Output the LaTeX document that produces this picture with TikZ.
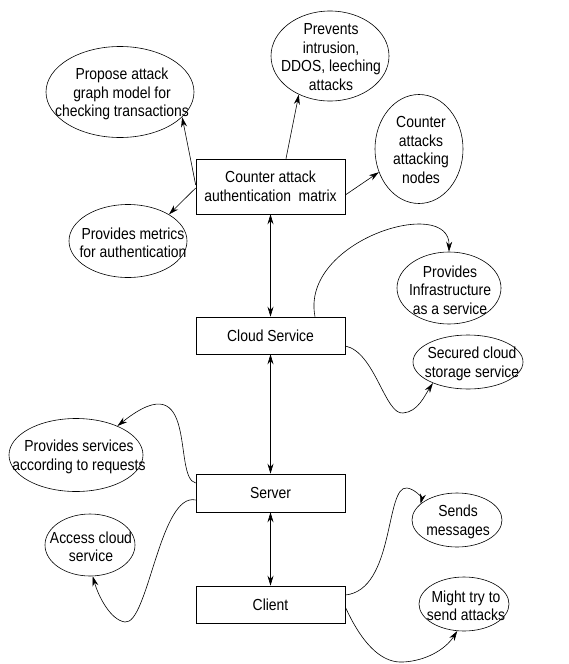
\documentclass[tikz,border=0pt]{standalone}
\usepackage{fontspec}
\setmainfont{Liberation Sans}[FakeStretch=0.87]
\usetikzlibrary{shapes.geometric,arrows.meta,calc}
\tikzset{
  box/.style={draw, line width=0.6pt, minimum width=149pt, inner sep=0pt, align=center},
  ell/.style={draw, ellipse, line width=0.6pt, inner sep=0pt},
  txt/.style={inner sep=0pt, align=center},
  arr/.style={line width=0.6pt, -{Stealth[length=10pt,width=6pt]}},
  darr/.style={line width=0.6pt, {Stealth[length=10pt,width=6pt]}-{Stealth[length=10pt,width=6pt]}}
}
\begin{document}
\begin{tikzpicture}[x=1pt,y=-1pt,font=\fontsize{16}{18.5}\selectfont]
\useasboundingbox (0,0) rectangle (568,664);
% boxes
\node[box, minimum height=55pt] (cam) at (270.5,186.5) {Counter attack\\authentication\ \ matrix};
\node[box, minimum height=37pt] (cloud) at (270.5,335.5) {Cloud Service};
\node[box, minimum height=38pt] (server) at (270.5,493) {Server};
\node[box, minimum height=37pt] (client) at (270.5,604.5) {Client};
% ellipses
\node[ell, minimum width=148pt, minimum height=91pt] (propose) at (120,92) {};
\node[txt] (proposet) at (122,94) {Propose attack\\graph model for\\checking transactions};
\node[ell, minimum width=118pt, minimum height=90pt] (prevents) at (330,56) {};
\node[txt] (preventst) at (331,57) {Prevents\\intrusion,\\DDOS, leeching\\attacks};
\node[ell, minimum width=88pt, minimum height=109pt] (cattacks) at (419,149) {};
\node[txt] (cattackst) at (421,150) {Counter\\attacks\\attacking\\nodes};
\node[ell, minimum width=118pt, minimum height=73pt] (metrics) at (128,241) {};
\node[txt] (metricst) at (133,243) {Provides metrics\\for authentication};
\node[ell, minimum width=104pt, minimum height=72pt] (infra) at (449,288) {};
\node[txt] (infrat) at (450,290) {Provides\\Infrastructure\\as a service};
\node[ell, minimum width=110pt, minimum height=54pt] (secured) at (468,362) {};
\node[txt] (securedt) at (472,364) {Secured cloud\\storage service};
\node[ell, minimum width=134pt, minimum height=73pt] (services) at (76,455) {};
\node[txt] (servicest) at (79,457) {Provides services\\according to requests};
\node[ell, minimum width=90pt, minimum height=62pt] (access) at (90,545) {};
\node[txt] (accesst) at (91,547) {Access cloud\\service};
\node[ell, minimum width=90pt, minimum height=54pt] (sends) at (457,520) {};
\node[txt] (sendst) at (458,522) {Sends\\messages};
\node[ell, minimum width=90pt, minimum height=54pt] (might) at (464,604) {};
\node[txt] (mightt) at (466,606) {Might try to\\send attacks};
% straight arrows from counter box
\draw[arr] ($(cam.west)+(0,-1.5)$) -- (propose.-22);
\draw[arr] ($(cam.west)+(0,1.5)$) -- (metrics.33);
\draw[arr] ($(cam.north)+(15.5,0)$) -- (prevents.-129);
\draw[arr] ($(cam.east)+(0,8.5)$) -- (cattacks.-150);
% vertical double arrows
\draw[darr] (cam.south) -- (cloud.north);
\draw[darr] (cloud.south) -- (server.north);
\draw[darr] (server.south) -- (client.north);
% curved arrows
\draw[arr] ($(cloud.north)+(44.5,0)$) .. controls (300,240) and (450,195) .. (infra.90);
\draw[arr] ($(cloud.east)+(0,10.5)$) .. controls (375,352) and (385,415) .. (403,413) .. controls (418,412) and (425,395) .. (secured.-149);
\draw[arr] ($(server.west)+(0,-10)$) .. controls (172,478) and (200,360) .. (services.35);
\draw[arr] ($(server.west)+(0,7)$) .. controls (160,492) and (148,625) .. (125,622) .. controls (110,620) and (98,595) .. (access.-85);
\draw[arr] ($(client.east)+(0,-9.5)$) .. controls (395,590) and (385,485) .. (407,488) .. controls (415,489) and (422,498) .. (sends.156);
\draw[arr] ($(client.east)+(0,2.5)$) .. controls (365,650) and (385,663) .. (403,662) .. controls (425,661) and (445,650) .. (might.-104);
\end{tikzpicture}
\end{document}
